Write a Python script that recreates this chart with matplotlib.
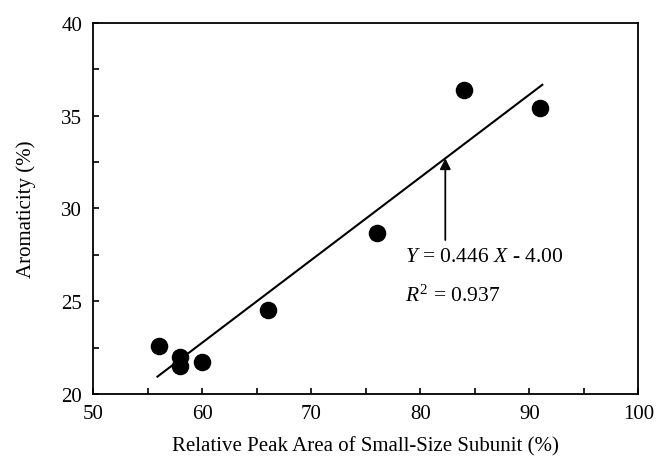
import numpy as np
from matplotlib import pyplot as plt
from matplotlib.ticker import MultipleLocator

plt.rcParams['font.family'] = ['Liberation Serif', 'DejaVu Serif']
plt.rcParams['mathtext.fontset'] = 'custom'
plt.rcParams['mathtext.rm'] = 'Liberation Serif'
plt.rcParams['mathtext.it'] = 'Liberation Serif:italic'

# data
peak_area = [56, 58, 58, 60, 66, 76, 84, 91]
aromaticity = [22.6, 22.0, 21.5, 21.7, 24.5, 28.7, 36.4, 35.4]
slope = 0.446
intercept = -4.00
r2 = 0.937
fit_range = [55.9, 91.2]
arrow_x = 82.3

fig = plt.figure(figsize=(6.56, 4.64), dpi=100)
ax = fig.add_axes([0.142, 0.149, 0.831, 0.799])

ax.scatter(peak_area, aromaticity, s=135, color='black', zorder=3)

x_fit = np.array(fit_range)
ax.plot(x_fit, slope * x_fit + intercept, color='black', linewidth=1.5)

tip_y = slope * arrow_x + intercept
ax.annotate('', xy=(arrow_x, tip_y), xytext=(arrow_x, 28.3),
            arrowprops=dict(arrowstyle='-|>', color='black', lw=1.3,
                            mutation_scale=16, shrinkA=0, shrinkB=0))

ax.text(78.6, 27.4, r'$Y$ = %.3f $X$ - %.2f' % (slope, -intercept),
        fontsize=15.5, va='center', ha='left')
ax.text(78.6, 25.3, r'$R^2$ = %.3f' % r2, fontsize=15.5, va='center', ha='left')

ax.set_xlim(50, 100)
ax.set_ylim(20, 40)
ax.xaxis.set_major_locator(MultipleLocator(10))
ax.xaxis.set_minor_locator(MultipleLocator(5))
ax.yaxis.set_major_locator(MultipleLocator(5))
ax.yaxis.set_minor_locator(MultipleLocator(2.5))
ax.tick_params(which='both', direction='in', length=4, width=1.2,
               labelsize=15, top=False, right=False)
ax.tick_params(axis='x', pad=7)
ax.tick_params(axis='y', pad=8)
for sp in ax.spines.values():
    sp.set_linewidth(1.3)

ax.set_xlabel('Relative Peak Area of Small-Size Subunit (%)', fontsize=15, labelpad=10)
ax.set_ylabel('Aromaticity (%)', fontsize=15, labelpad=18)

fig.savefig('out.png', dpi=100)
